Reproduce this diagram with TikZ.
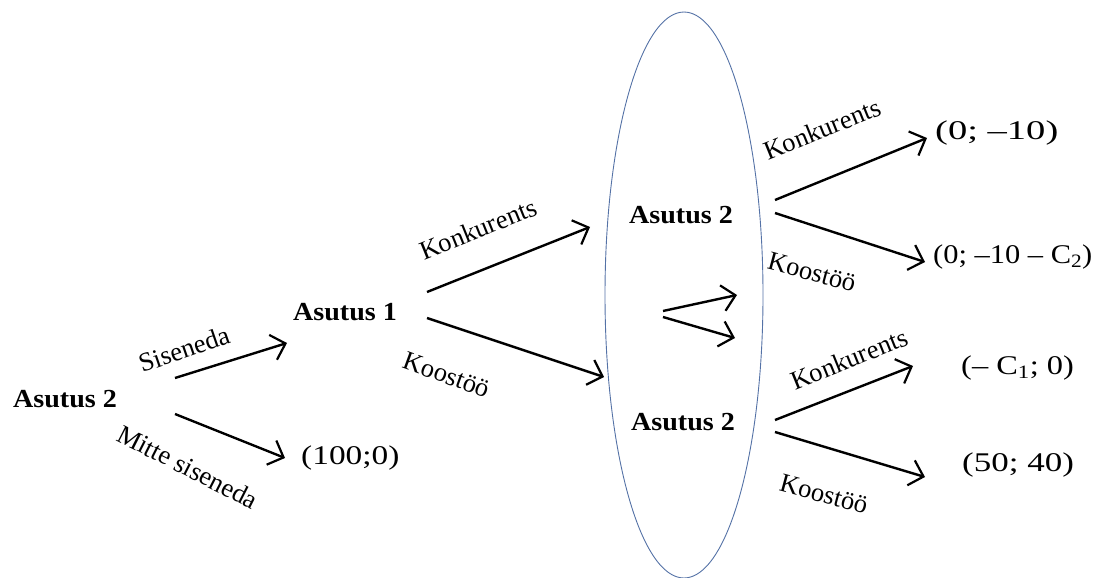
\documentclass[tikz,border=0pt]{standalone}
\usepackage{fontspec}
\setmainfont{Liberation Serif}[FakeStretch=1.08]
\newfontfamily\payfont{Liberation Serif}[FakeStretch=1.2]
\newfontfamily\lblfont{Liberation Serif}
\usetikzlibrary{arrows.meta,shapes.geometric}
\definecolor{ovalblue}{RGB}{84,114,166}
\tikzset{
  player/.style={font=\fontsize{26}{30}\selectfont\bfseries, inner sep=0pt},
  lbl/.style={font=\fontsize{26.5}{30}\selectfont\lblfont, inner sep=0pt},
  pay/.style={font=\fontsize{27}{32}\selectfont\payfont, inner sep=0pt, anchor=west},
  arr/.style={line width=2.4pt, -{Straight Barb[length=13pt,width=26pt,line width=2.2pt]}},
}
\begin{document}
\begin{tikzpicture}[x=1pt,y=-1pt]
\useasboundingbox (0,0) rectangle (1095,578);
% oval
\node[draw=ovalblue, line width=0.9pt, ellipse, minimum width=158pt, minimum height=566pt, inner sep=0pt] (oval) at (684,295) {};
% players
\node[player] (A2) at (65,399) {Asutus 2};
\node[player] (A1) at (345,312) {Asutus 1};
\node[player] (B1) at (681,215) {Asutus 2};
\node[player] (B2) at (683,422) {Asutus 2};
% payoffs
\node[pay] (P0) at (301,458) {\scalebox{1.03}[1]{(100;0)}};
\node[pay] (P1) at (935,133) {\scalebox{1.19}[1]{(0; –10)}};
\node[pay] (P2) at (933,257) {\scalebox{0.94}[1]{(0; –10 – C\textsubscript{2})}};
\node[pay] (P3) at (961,368) {(– C\textsubscript{1}; 0)};
\node[pay] (P4) at (962,465) {\scalebox{1.08}[1]{(50; 40)}};
% arrow end points
\coordinate (a1s) at (175,378); \coordinate (a1e) at (287,343);
\coordinate (a2s) at (175,414); \coordinate (a2e) at (285,458);
\coordinate (b1s) at (427,292); \coordinate (b1e) at (590,227);
\coordinate (b2s) at (427,318); \coordinate (b2e) at (604,377);
\coordinate (m1s) at (663,311); \coordinate (m1e) at (737,295);
\coordinate (m2s) at (663,317); \coordinate (m2e) at (735,338);
\coordinate (c1s) at (775,200); \coordinate (c1e) at (927,138);
\coordinate (c2s) at (775,213); \coordinate (c2e) at (925,262);
\coordinate (d1s) at (775,420); \coordinate (d1e) at (913,366);
\coordinate (d2s) at (775,432); \coordinate (d2e) at (925,477);
\draw[arr] (a1s) -- (a1e);
\draw[arr] (a2s) -- (a2e);
\draw[arr] (b1s) -- (b1e);
\draw[arr] (b2s) -- (b2e);
\draw[arr] (m1s) -- (m1e);
\draw[arr] (m2s) -- (m2e);
\draw[arr] (c1s) -- (c1e);
\draw[arr] (c2s) -- (c2e);
\draw[arr] (d1s) -- (d1e);
\draw[arr] (d2s) -- (d2e);
% labels
\node[lbl, rotate=19] (L1) at (184,349) {Siseneda};
\node[lbl, rotate=-27] (L2) at (188,467) {Mitte siseneda};
\node[lbl, rotate=22] (L3) at (478,229) {Konkurents};
\node[lbl, rotate=-20] (L4) at (447,375) {Koostöö};
\node[lbl, rotate=22] (L5) at (822,129) {Konkurents};
\node[lbl, rotate=-15] (L6) at (812,272) {Koostöö};
\node[lbl, rotate=22] (L7) at (849,359) {Konkurents};
\node[lbl, rotate=-15] (L8) at (824,494) {Koostöö};
\end{tikzpicture}
\end{document}
